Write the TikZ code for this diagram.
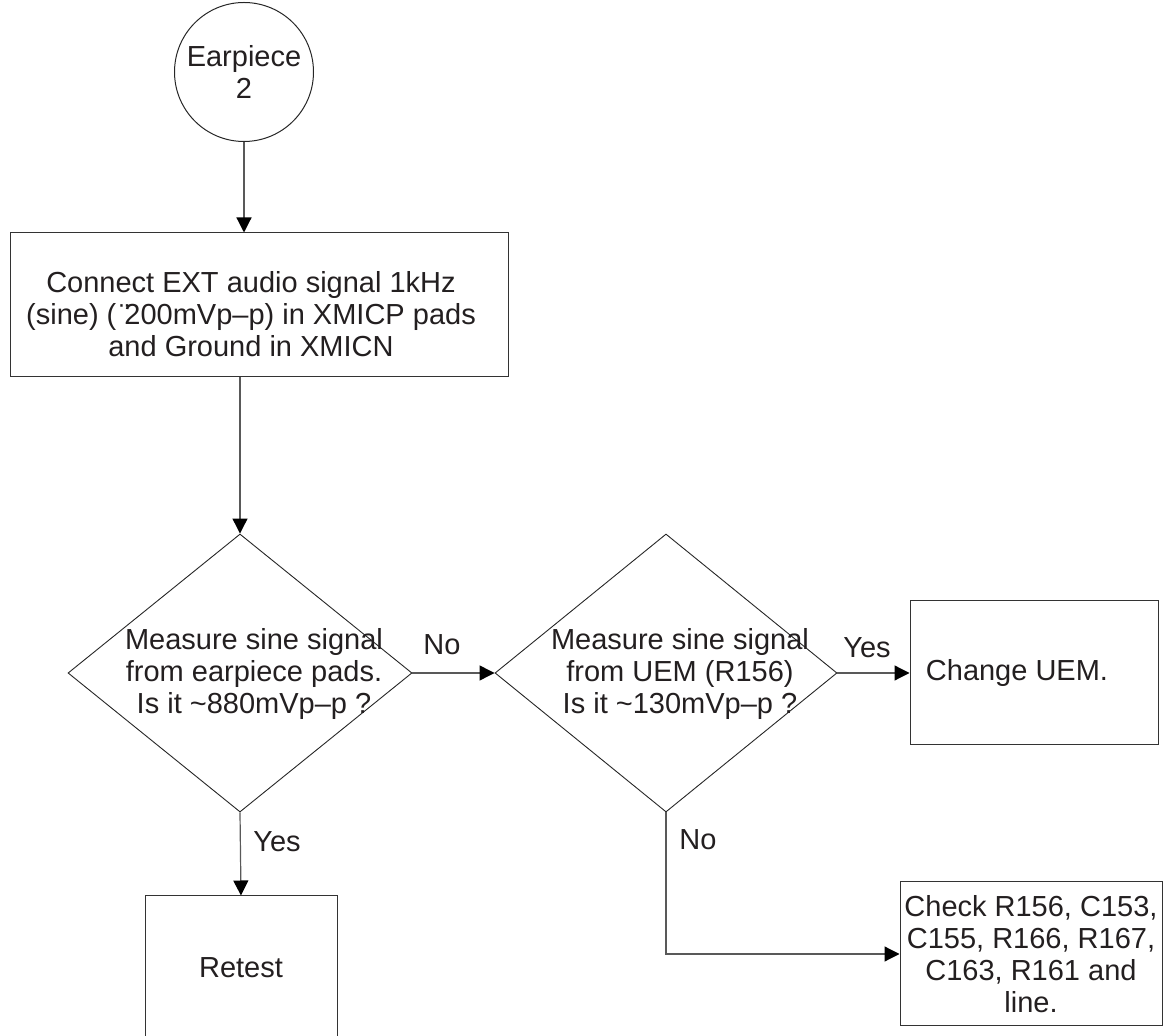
\documentclass[tikz,border=0pt]{standalone}
\usepackage{fontspec}
\setmainfont{Liberation Sans}
\usetikzlibrary{shapes.geometric,arrows.meta}
\definecolor{txt}{HTML}{231F20}
\begin{document}
\begin{tikzpicture}[x=0.5pt,y=-0.5pt,
  every node/.style={font=\fontsize{14.5}{16}\selectfont, text=txt},
  boxnode/.style={draw=black!80, line width=0.5pt, rectangle, inner sep=0pt, align=center},
  decision/.style={draw=black!85, line width=0.45pt, diamond, inner sep=0pt},
  circnode/.style={draw=black!85, line width=0.5pt, circle, inner sep=0pt, minimum size=69.5pt, align=center},
  txtnode/.style={align=center, inner sep=0pt},
  conn/.style={draw=black!65, line width=0.6pt, -{Triangle[length=7.5pt,width=7.5pt,color=black]}},
  lbl/.style={inner sep=0pt}]
\useasboundingbox (0,0) rectangle (1168,1036);
% nodes
\node[circnode] (circ) at (244,72) {Earpiece\\2};
\node[boxnode, minimum width=249pt, minimum height=72pt] (box1) at (259,305) {};
\node[txtnode] (t1) at (251,314) {Connect EXT audio signal 1kHz\\(sine) (\"{}200mVp--p) in XMICP pads\\and Ground in XMICN};
\node[decision, minimum width=172pt, minimum height=139pt] (d1) at (240,673) {};
\node[txtnode] (t2) at (254,674) {Measure sine signal\\from earpiece pads.\\Is it \textasciitilde880mVp--p ?};
\node[decision, minimum width=171pt, minimum height=139pt] (d2) at (666,673) {};
\node[txtnode] (t3) at (680,674) {Measure sine signal\\from UEM (R156)\\Is it \textasciitilde130mVp--p ?};
\node[boxnode, minimum width=124pt, minimum height=72pt] (chg) at (1034,673) {};
\node[txtnode] (t4) at (1017,673) {Change UEM.};
\node[boxnode, minimum width=96pt, minimum height=72pt] (ret) at (241,968) {Retest};
\node[boxnode, minimum width=131pt, minimum height=72pt] (chk) at (1031,954) {Check R156, C153,\\C155, R166, R167,\\C163, R161 and\\line.};
% connectors
\draw[conn] (circ.south) -- (circ.south |- box1.north);
\draw[conn] (d1.north |- box1.south) -- (d1.north);
\draw[conn] (d1.east) -- (d2.west);
\draw[conn] (d2.east) -- (chg.west);
\draw[conn] (d1.south) -- (ret.north);
\draw[conn] (d2.south) |- (chk.west);
% labels
\node[lbl] (lno1) at (442,645) {No};
\node[lbl] (lyes1) at (867,648) {Yes};
\node[lbl] (lyes2) at (277,842) {Yes};
\node[lbl] (lno2) at (698,840) {No};
\end{tikzpicture}
\end{document}
